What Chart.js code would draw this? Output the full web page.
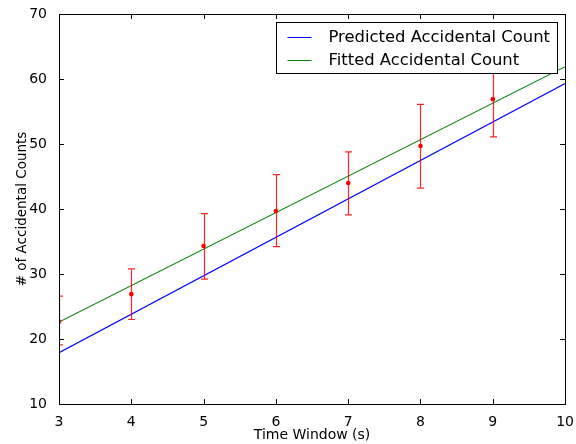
<!DOCTYPE html>
<html>
<head>
<meta charset="utf-8">
<script src="https://cdn.jsdelivr.net/npm/chart.js@4"></script>
<style>
  html, body { margin: 0; padding: 0; background: #fff; }
  #wrap { width: 576px; height: 444px; }
</style>
</head>
<body>
<div id="wrap"><canvas id="grafico"></canvas></div>
<script>
// measured values
const windows = [3, 4, 5, 6, 7, 8, 9];
const counts = [22.7, 26.9, 34.3, 39.7, 44.0, 49.7, 56.9];
const errLow = [19.1, 23.0, 29.2, 34.2, 39.1, 43.2, 51.1];
const errHigh = [26.6, 30.8, 39.3, 45.3, 48.8, 56.1, 62.7];

// model lines (straight, endpoints)
const lineX = [3, 10];
const predicted = [17.9, 59.3];
const fitted = [22.6, 61.9];

const xTicks = [3, 4, 5, 6, 7, 8, 9, 10];
const yTicks = [10, 20, 30, 40, 50, 60, 70];

const fuente = 'DejaVu Sans, sans-serif';

// error bars + frame with inward ticks + legend inside the plot
const extras = {
    id: 'extras',
    afterDatasetsDraw(chart) {
        const ctx = chart.ctx;
        const xs = chart.scales.x, ys = chart.scales.y;
        const a = chart.chartArea;
        ctx.save();
        ctx.beginPath();
        ctx.rect(a.left, a.top, a.right - a.left, a.bottom - a.top);
        ctx.clip();
        ctx.strokeStyle = 'rgba(255,0,0,0.85)';
        ctx.lineWidth = 1.2;
        windows.forEach((w, i) => {
            const px = Math.round(xs.getPixelForValue(w)) + 0.5;
            const lo = ys.getPixelForValue(errLow[i]);
            const hi = ys.getPixelForValue(errHigh[i]);
            ctx.beginPath();
            ctx.moveTo(px, lo); ctx.lineTo(px, hi);
            ctx.moveTo(px - 3.5, lo); ctx.lineTo(px + 3.5, lo);
            ctx.moveTo(px - 3.5, hi); ctx.lineTo(px + 3.5, hi);
            ctx.stroke();
        });
        ctx.restore();
    },
    afterDraw(chart) {
        const ctx = chart.ctx;
        const xs = chart.scales.x, ys = chart.scales.y;
        const a = chart.chartArea;
        ctx.save();
        // ticks
        ctx.strokeStyle = '#000';
        ctx.lineWidth = 1;
        ctx.beginPath();
        xTicks.forEach(v => {
            const px = Math.round(xs.getPixelForValue(v)) + 0.5;
            ctx.moveTo(px, a.bottom); ctx.lineTo(px, a.bottom - 5);
            ctx.moveTo(px, a.top); ctx.lineTo(px, a.top + 5);
        });
        yTicks.forEach(v => {
            const py = Math.round(ys.getPixelForValue(v)) + 0.5;
            ctx.moveTo(a.left, py); ctx.lineTo(a.left + 5, py);
            ctx.moveTo(a.right, py); ctx.lineTo(a.right - 5, py);
        });
        ctx.stroke();
        // frame
        ctx.strokeRect(Math.round(a.left) + 0.5, Math.round(a.top) + 0.5,
            Math.round(a.right - a.left), Math.round(a.bottom - a.top));

        // legend
        const lx = 276.5, ly = 22.5, lw = 281, lh = 51;
        ctx.fillStyle = '#fff';
        ctx.fillRect(lx, ly, lw, lh);
        ctx.strokeStyle = '#000';
        ctx.strokeRect(lx, ly, lw, lh);
        ctx.font = '16.4px ' + fuente;
        ctx.textBaseline = 'middle';
        ctx.textAlign = 'left';
        [chart.data.datasets[1], chart.data.datasets[2]].forEach((ds, i) => {
            const y = Math.round(ly + 14 + i * 23.5) + 0.5;
            ctx.strokeStyle = ds.borderColor;
            ctx.beginPath();
            ctx.moveTo(lx + 11, y); ctx.lineTo(lx + 35, y);
            ctx.stroke();
            ctx.fillStyle = '#000';
            ctx.fillText(ds.label, lx + 52, y);
        });
        ctx.restore();
    }
};

const ctx = document.getElementById('grafico').getContext('2d');
new Chart(ctx, {
    type: 'scatter',
    data: {
        datasets: [{
            label: 'Measured',
            data: windows.map((w, i) => ({ x: w, y: counts[i] })),
            backgroundColor: '#ff0000',
            borderColor: '#ff0000',
            pointRadius: 2.3,
            pointBorderWidth: 0
        }, {
            label: 'Predicted Accidental Count',
            data: lineX.map((x, i) => ({ x: x, y: predicted[i] })),
            showLine: true,
            borderColor: '#0000ff',
            borderWidth: 1.1,
            pointRadius: 0
        }, {
            label: 'Fitted Accidental Count',
            data: lineX.map((x, i) => ({ x: x, y: fitted[i] })),
            showLine: true,
            borderColor: '#008000',
            borderWidth: 1.1,
            pointRadius: 0
        }]
    },
    options: {
        responsive: true,
        maintainAspectRatio: false,
        animation: false,
        layout: { padding: { top: 14, right: 10, left: 14, bottom: 0 } },
        plugins: {
            legend: { display: false },
            tooltip: { enabled: false }
        },
        scales: {
            x: {
                type: 'linear',
                min: 3,
                max: 10,
                afterFit: s => { s.height = 40; },
                afterBuildTicks: s => { s.ticks = xTicks.map(v => ({ value: v })); },
                grid: { display: false },
                border: { display: false },
                ticks: { color: '#000', padding: 2, font: { family: fuente, size: 14 } },
                title: { display: true, text: 'Time Window (s)', color: '#000', padding: 0, font: { family: fuente, size: 14 } }
            },
            y: {
                type: 'linear',
                min: 10,
                max: 70,
                afterFit: s => { s.width = 45; },
                afterBuildTicks: s => { s.ticks = yTicks.map(v => ({ value: v })); },
                grid: { display: false },
                border: { display: false },
                ticks: { color: '#000', padding: 4, font: { family: fuente, size: 14 } },
                title: { display: true, text: '# of Accidental Counts', color: '#000', padding: 0, font: { family: fuente, size: 13.5 } }
            }
        }
    },
    plugins: [extras]
});
</script>
</body>
</html>
